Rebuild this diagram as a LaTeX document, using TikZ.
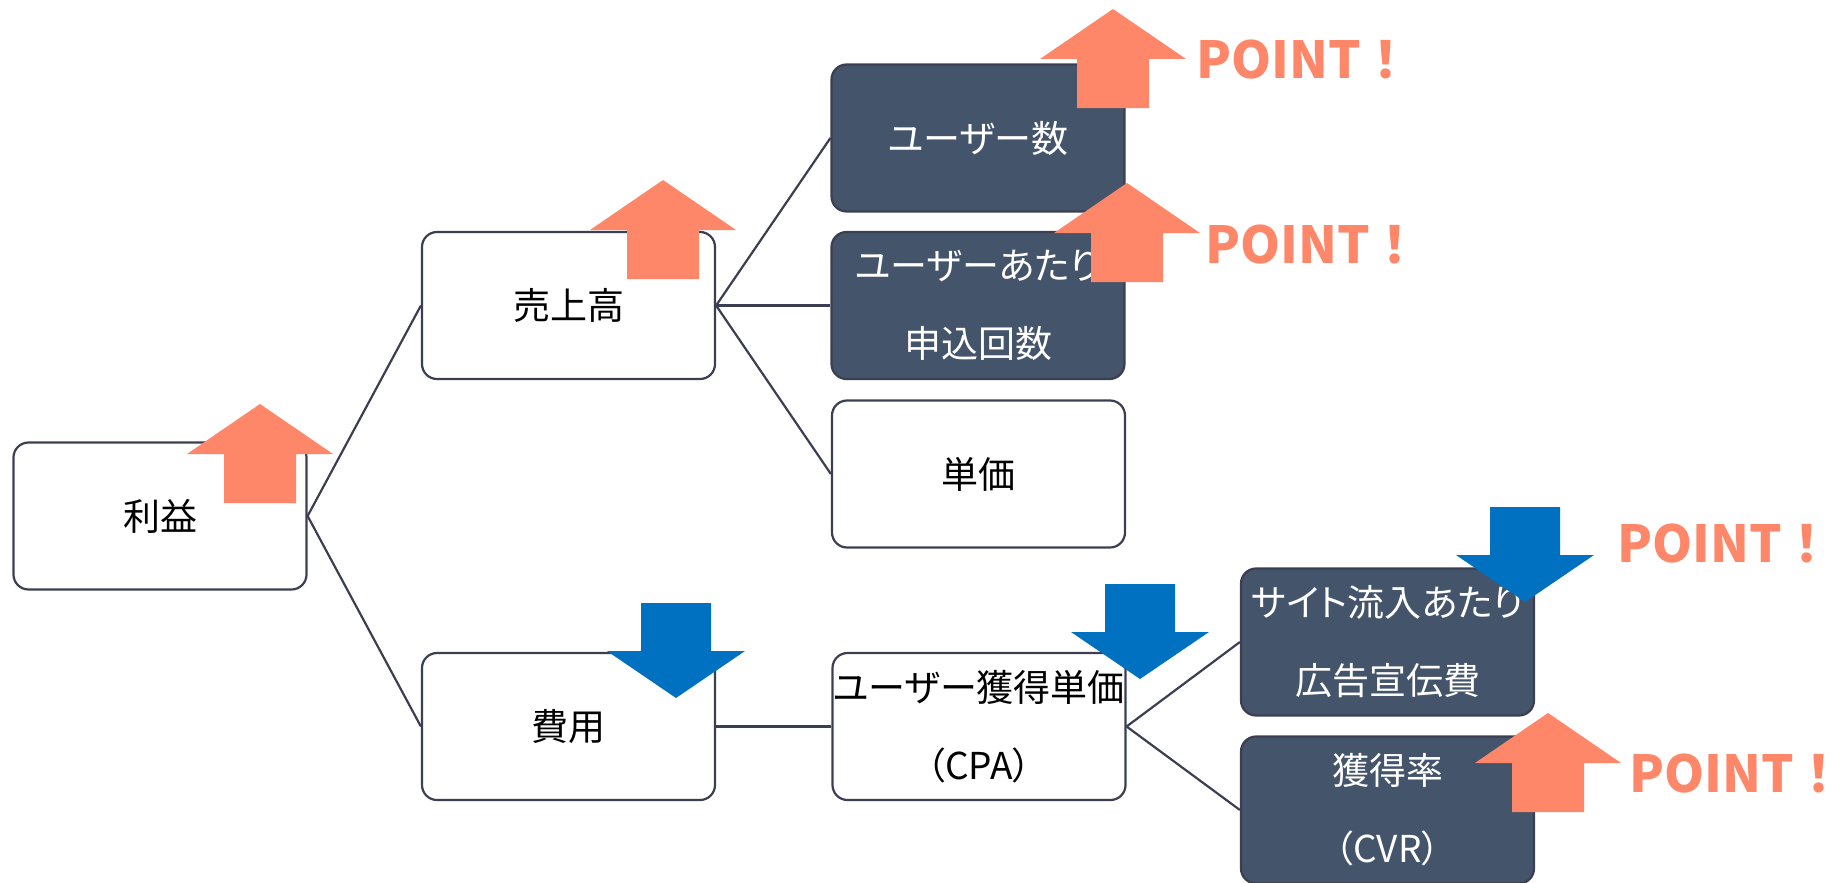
\documentclass[tikz,border=0pt]{standalone}
\usepackage{fontspec}
\newfontfamily\jp{Noto Sans CJK JP}[RawFeature=+palt]
\newfontfamily\jpfw{Noto Sans CJK JP}
\definecolor{edge}{HTML}{3C3F52}
\definecolor{darkbox}{HTML}{44546A}
\definecolor{upc}{HTML}{FF8769}
\definecolor{downc}{HTML}{0070C0}
\tikzset{
  box/.style={draw=edge, line width=2.2pt, rounded corners=15pt, minimum width=293pt, minimum height=147pt, inner sep=0pt, align=center, font=\jp\fontsize{37}{78}\selectfont},
  lightbox/.style={box, fill=white, text=black},
  darkbox/.style={box, fill=darkbox, text=white},
  link/.style={draw=edge, line width=2.2pt},
  pointtxt/.style={anchor=west, inner sep=0pt, text=upc, font=\jpfw\bfseries\fontsize{51}{54}\selectfont},
}
\newcommand{\uparrowshape}[2]{%
  \fill[upc] (#1,#2) -- ++(73,50) -- ++(-37,0) -- ++(0,49) -- ++(-72,0) -- ++(0,-49) -- ++(-37,0) -- cycle;}
\newcommand{\downarrowshape}[2]{%
  \fill[downc] (#1,#2) -- ++(69,-47) -- ++(-34,0) -- ++(0,-48) -- ++(-70,0) -- ++(0,48) -- ++(-34,0) -- cycle;}
\begin{document}
\begin{tikzpicture}[x=1pt,y=-1pt]
\useasboundingbox (0,0) rectangle (1839,883);
\node[lightbox] (rieki)  at (160,516)    {利益};
\node[lightbox] (uriage) at (568.5,305.5) {売上高};
\node[lightbox] (hiyo)   at (568.5,726.5) {費用};
\node[darkbox]  (users)  at (978,138)    {ユーザー数};
\node[darkbox]  (apply)  at (978,305.5)  {ユーザーあたり\\申込回数};
\node[lightbox] (tanka)  at (978.5,474)  {単価};
\node[lightbox] (cpa)    at (979,726.5)  {ユーザー獲得単価\\（CPA）};
\node[darkbox]  (site)   at (1387.5,642) {サイト流入あたり\\広告宣伝費};
\node[darkbox]  (cvr)    at (1387.5,810) {獲得率\\（CVR）};

\draw[link] (rieki.east) -- (uriage.west);
\draw[link] (rieki.east) -- (hiyo.west);
\draw[link] (uriage.east) -- (users.west);
\draw[link] (uriage.east) -- (apply.west);
\draw[link] (uriage.east) -- (tanka.west);
\draw[link] (hiyo.east) -- (cpa.west);
\draw[link] (cpa.east) -- (site.west);
\draw[link] (cpa.east) -- (cvr.west);

\uparrowshape{260}{404}
\uparrowshape{663}{180}
\uparrowshape{1113}{9}
\uparrowshape{1127}{183}
\uparrowshape{1548}{713}
\downarrowshape{676}{698}
\downarrowshape{1140}{679}
\downarrowshape{1525}{602}

\node[pointtxt] (p1) at (1196,60) {POINT！};
\node[pointtxt] (p2) at (1205,245) {POINT！};
\node[pointtxt] (p3) at (1617,544) {POINT！};
\node[pointtxt] (p4) at (1629,774) {POINT！};
\end{tikzpicture}
\end{document}
